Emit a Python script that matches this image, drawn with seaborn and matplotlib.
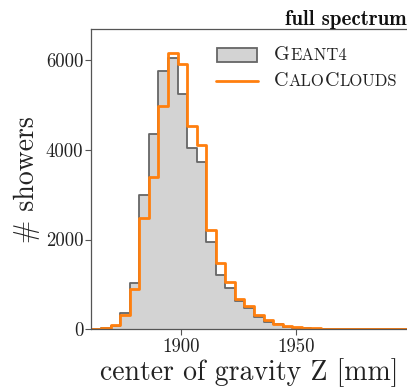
import matplotlib
matplotlib.use("Agg")
import matplotlib.pyplot as plt
import seaborn as sns
import numpy as np
from matplotlib.offsetbox import AnchoredOffsetbox, DrawingArea, HPacker, TextArea, VPacker
from matplotlib.patches import Rectangle
from matplotlib.lines import Line2D

# Histogram counts per bin (33 bins between 1861 and 1998.5 mm)
bin_lo, bin_hi, n_bins = 1861.0, 1998.5, 33
geant4_counts = [5, 20, 75, 360, 1040, 3000, 4350, 5750, 6050, 5250, 4050, 3720, 1950,
                 1220, 930, 640, 480, 275, 170, 110, 60, 35, 25, 15, 10, 8, 6, 5, 4, 3,
                 3, 2, 2]
calo_counts = [8, 25, 90, 320, 900, 2480, 3400, 4980, 6160, 5900, 4530, 4110, 2210,
               1480, 1050, 670, 530, 310, 205, 125, 70, 42, 28, 18, 13, 10, 8, 6, 5, 4,
               3, 3, 2]
x_ticks = [1900, 1950]
y_ticks = [0, 2000, 4000, 6000]

sns.set_style("ticks")
plt.rcParams["font.family"] = ["cmr10"]
plt.rcParams["mathtext.fontset"] = "cm"
plt.rcParams["axes.unicode_minus"] = False
plt.rcParams["axes.formatter.use_mathtext"] = True

edges = np.linspace(bin_lo, bin_hi, n_bins + 1).tolist()
centers = [0.5 * (a + b) for a, b in zip(edges[:-1], edges[1:])]

fill_grey = "#d3d3d3"
edge_grey = "#666666"
orange = "#ff7f0e"
text_col = "#222222"

fig = plt.figure(figsize=(4.07, 3.89), dpi=100)
ax = fig.add_axes([0.2248, 0.1535, 0.7752, 0.7712])

sns.histplot(x=centers, weights=geant4_counts, bins=edges, element="step", fill=True,
             color=fill_grey, alpha=1, linewidth=0, ax=ax)
sns.histplot(x=centers, weights=geant4_counts, bins=edges, element="step", fill=False,
             color=edge_grey, linewidth=1.3, ax=ax)
sns.histplot(x=centers, weights=calo_counts, bins=edges, element="step", fill=False,
             color=orange, linewidth=2.0, ax=ax)

ax.set_xlim(bin_lo, bin_hi)
ax.set_ylim(0, 6684)
ax.set_xticks(x_ticks)
ax.set_yticks(y_ticks)
ax.set_xticklabels([str(t) for t in x_ticks])
ax.set_yticklabels([str(t) for t in y_ticks])
ax.tick_params(direction="out", length=4, width=0.8, color="#555555", labelsize=13.5,
               labelcolor=text_col, pad=2)
for side in ["left", "bottom", "top"]:
    ax.spines[side].set_color("#555555")
    ax.spines[side].set_linewidth(0.9)
ax.spines["right"].set_visible(False)

ax.set_xlabel("center of gravity Z [mm]", fontsize=20, labelpad=2, color=text_col)
ax.set_ylabel("# showers", fontsize=20, labelpad=4, color=text_col)
ax.set_title("full spectrum", loc="right", fontsize=15, family="cmb10", pad=3,
             color="#111111")


def small_caps(parts):
    # fake small caps: big initials, smaller capitals for the rest
    return HPacker(children=[TextArea(t, textprops=dict(fontsize=s, family="cmr10", color=text_col))
                             for t, s in parts], align="baseline", pad=0, sep=0)


h1 = DrawingArea(30, 11)
h1.add_artist(Rectangle((0.5, 0.5), 29, 10, facecolor=fill_grey, edgecolor=edge_grey, linewidth=1.3))
h2 = DrawingArea(30, 11)
h2.add_artist(Line2D([0, 30], [5.5, 5.5], color=orange, linewidth=2.0))

row1 = HPacker(children=[h1, small_caps([("G", 14.5), ("EANT4", 12)])], align="center", pad=0, sep=12)
row2 = HPacker(children=[h2, small_caps([("C", 14.5), ("ALO", 12), ("C", 14.5), ("LOUDS", 12)])],
               align="center", pad=0, sep=12)
legend_box = VPacker(children=[row1, row2], align="left", pad=0, sep=6)
anchored = AnchoredOffsetbox(loc="upper left", child=legend_box, pad=0, borderpad=0,
                             frameon=False, bbox_to_anchor=(216 / 407, 1 - 46 / 389),
                             bbox_transform=fig.transFigure)
ax.add_artist(anchored)

fig.savefig("out.png", dpi=100)
